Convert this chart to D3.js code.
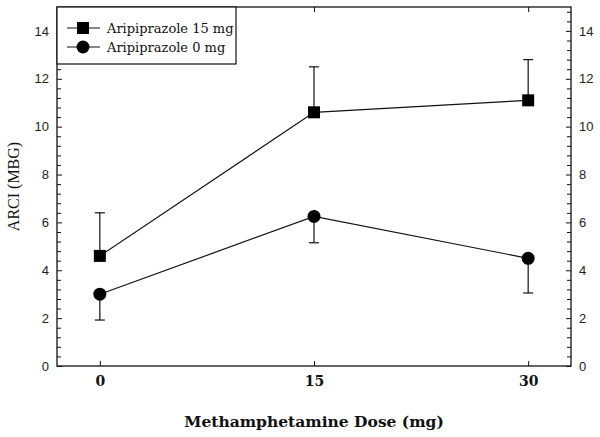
<!DOCTYPE html>
<html><head><meta charset="utf-8">
<script src="https://cdn.jsdelivr.net/npm/d3@7"></script>
<style>body{margin:0;background:#fff}svg{display:block}</style>
</head><body>
<script>
const doses = [0, 15, 30];
const xTickLabels = ["0", "15", "30"];
const yTicks = [0, 2, 4, 6, 8, 10, 12, 14];
const ari15Mean = [4.6, 10.6, 11.1];
const ari15ErrUp = [6.4, 12.5, 12.8];
const ari0Mean = [3.0, 6.25, 4.5];
const ari0ErrDown = [1.92, 5.15, 3.05];
const seriesNames = ["Aripiprazole 15 mg", "Aripiprazole 0 mg"];

const W = 600, H = 437;
const m = {left: 57, right: 29, top: 7, bottom: 71};
const svg = d3.select("body").append("svg").attr("width", W).attr("height", H);
const x = d3.scaleLinear().domain([-3, 33]).range([m.left, W - m.right]);
const y = d3.scaleLinear().domain([0, 15]).range([H - m.bottom, m.top]);

const minor = d3.range(0, 15.01, 0.4).filter(v => Math.abs(v/2 - Math.round(v/2)) > 1e-6);

// frame
svg.append("rect").attr("x", x.range()[0]).attr("y", y.range()[1])
  .attr("width", x.range()[1] - x.range()[0]).attr("height", y.range()[0] - y.range()[1])
  .attr("fill", "none").attr("stroke", "#111").attr("stroke-width", 1.3);

const sansFont = "'Liberation Sans', Arial, sans-serif";
const serifFont = "Georgia, 'DejaVu Serif', serif";

// left axis
const leftAx = svg.append("g").attr("transform", `translate(${m.left},0)`)
  .call(d3.axisLeft(y).tickValues(yTicks).tickSize(-5).tickPadding(8));
leftAx.select(".domain").remove();
leftAx.selectAll("text").attr("font-family", sansFont).attr("font-size", 13).attr("fill", "#222");
const leftMinor = svg.append("g").attr("transform", `translate(${m.left},0)`)
  .call(d3.axisLeft(y).tickValues(minor).tickSize(-4).tickFormat(""));
leftMinor.select(".domain").remove();

// right axis
const rightAx = svg.append("g").attr("transform", `translate(${W - m.right},0)`)
  .call(d3.axisRight(y).tickValues(yTicks).tickSize(-5).tickPadding(8));
rightAx.select(".domain").remove();
rightAx.selectAll("text").attr("font-family", sansFont).attr("font-size", 13).attr("fill", "#222");
const rightMinor = svg.append("g").attr("transform", `translate(${W - m.right},0)`)
  .call(d3.axisRight(y).tickValues(minor).tickSize(-4).tickFormat(""));
rightMinor.select(".domain").remove();

// bottom axis
const bottomAx = svg.append("g").attr("transform", `translate(0,${H - m.bottom})`)
  .call(d3.axisBottom(x).tickValues(doses).tickSize(-5).tickPadding(10).tickFormat((d, i) => xTickLabels[i]));
bottomAx.select(".domain").remove();
bottomAx.selectAll("text").attr("font-family", serifFont).attr("font-size", 14).attr("font-weight", "bold").attr("fill", "#111");
// top axis
const topAx = svg.append("g").attr("transform", `translate(0,${m.top})`)
  .call(d3.axisTop(x).tickValues(doses).tickSize(-5).tickFormat(""));
topAx.select(".domain").remove();

svg.selectAll(".tick line").attr("stroke", "#111");

// axis titles
svg.append("text").attr("x", x(15)).attr("y", 427).attr("text-anchor", "middle")
  .attr("font-family", serifFont).attr("font-size", 15.5).attr("font-weight", "bold").attr("fill", "#111")
  .text("Methamphetamine Dose (mg)");
svg.append("text").attr("transform", `translate(19,${y(7.5)}) rotate(-90)`).attr("text-anchor", "middle")
  .attr("font-family", "'Liberation Serif', 'Times New Roman', serif").attr("font-size", 16).attr("fill", "#111")
  .text("ARCI (MBG)");

const line = d3.line().x((d, i) => x(doses[i])).y(d => y(d));

// error bars
function errBars(means, ends) {
  const g = svg.append("g").attr("stroke", "#111").attr("stroke-width", 1.2);
  doses.forEach((d, i) => {
    g.append("line").attr("x1", x(d)).attr("x2", x(d)).attr("y1", y(means[i])).attr("y2", y(ends[i]));
    g.append("line").attr("x1", x(d) - 5).attr("x2", x(d) + 5).attr("y1", y(ends[i])).attr("y2", y(ends[i]));
  });
}
errBars(ari15Mean, ari15ErrUp);
errBars(ari0Mean, ari0ErrDown);

svg.append("path").datum(ari15Mean).attr("d", line).attr("fill", "none").attr("stroke", "#111").attr("stroke-width", 1.2);
svg.append("path").datum(ari0Mean).attr("d", line).attr("fill", "none").attr("stroke", "#111").attr("stroke-width", 1.2);

svg.append("g").selectAll("rect").data(ari15Mean).join("rect")
  .attr("x", (d, i) => x(doses[i]) - 6).attr("y", d => y(d) - 6).attr("width", 12).attr("height", 12).attr("fill", "#000");
svg.append("g").selectAll("circle").data(ari0Mean).join("circle")
  .attr("cx", (d, i) => x(doses[i])).attr("cy", d => y(d)).attr("r", 6.5).attr("fill", "#000");

// legend
const lg = svg.append("g");
lg.append("rect").attr("x", m.left).attr("y", m.top).attr("width", 179).attr("height", 57)
  .attr("fill", "#fff").attr("stroke", "#111").attr("stroke-width", 1.2);
const rows = [28, 47];
rows.forEach((ry, i) => {
  lg.append("line").attr("x1", 67).attr("x2", 100).attr("y1", ry).attr("y2", ry).attr("stroke", "#111").attr("stroke-width", 1.2);
  if (i === 0) lg.append("rect").attr("x", 77).attr("y", ry - 6).attr("width", 12).attr("height", 12).attr("fill", "#000");
  else lg.append("circle").attr("cx", 83).attr("cy", ry).attr("r", 6.5).attr("fill", "#000");
  lg.append("text").attr("x", 107).attr("y", ry + 4.5).attr("font-family", serifFont).attr("font-size", 13)
    .attr("fill", "#111").text(seriesNames[i]);
});
</script>
</body></html>
